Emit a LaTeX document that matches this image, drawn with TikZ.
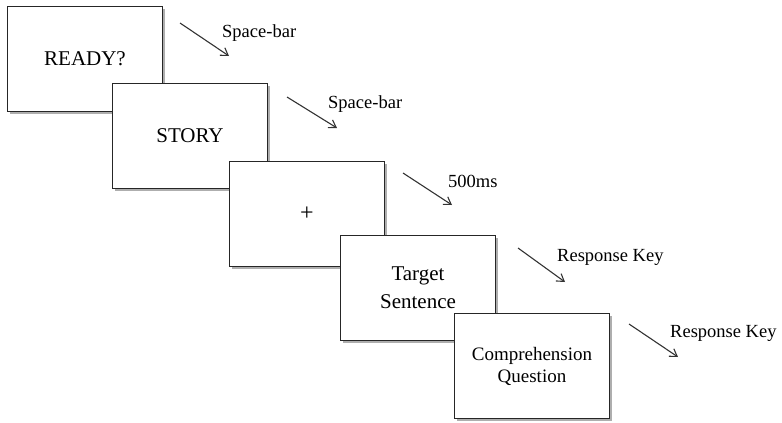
\documentclass[tikz,border=0pt]{standalone}
\usepackage{fontspec}
\setmainfont{Liberation Serif}
\usetikzlibrary{arrows.meta,shadows}
\begin{document}
\begin{tikzpicture}[x=1pt,y=-1pt,
  screen/.style={draw=black!85, line width=1.6pt, fill=white, minimum width=155pt, minimum height=105pt, inner sep=0pt, align=center,
    drop shadow={shadow xshift=2.5pt, shadow yshift=-2.5pt, fill=black!45, opacity=0.7}, font=\fontsize{21}{28}\selectfont},
  lbl/.style={inner sep=0pt, anchor=west, font=\fontsize{18.5}{22}\selectfont},
  step arrow/.style={-{Straight Barb[length=7pt,width=9pt]}, line width=1.1pt, black!80}]
\useasboundingbox (0,0) rectangle (782,423);
\node[screen] (s1) at (85,59) {READY?};
\node[screen] (s2) at (190,136) {STORY};
\node[screen, font=\fontsize{24}{28}\selectfont] (s3) at (307,214) {+};
\node[screen] (s4) at (418,288) {Target\\Sentence};
\node[screen, font=\fontsize{19}{22}\selectfont] (s5) at (532,366) {Comprehension\\Question};
% arrows
\coordinate (a1s) at (180,23); \coordinate (a1e) at (229,56);
\coordinate (a2s) at (287,97); \coordinate (a2e) at (337,128);
\coordinate (a3s) at (403,173); \coordinate (a3e) at (452,205);
\coordinate (a4s) at (518,248); \coordinate (a4e) at (565,282);
\coordinate (a5s) at (629,324); \coordinate (a5e) at (678,357);
\draw[step arrow] (a1s) -- (a1e);
\draw[step arrow] (a2s) -- (a2e);
\draw[step arrow] (a3s) -- (a3e);
\draw[step arrow] (a4s) -- (a4e);
\draw[step arrow] (a5s) -- (a5e);
\node[lbl] (l1) at (222,33) {Space-bar};
\node[lbl] (l2) at (328,104) {Space-bar};
\node[lbl] (l3) at (448,181) {500ms};
\node[lbl] (l4) at (557,257) {Response Key};
\node[lbl] (l5) at (670,333) {Response Key};
\end{tikzpicture}
\end{document}
